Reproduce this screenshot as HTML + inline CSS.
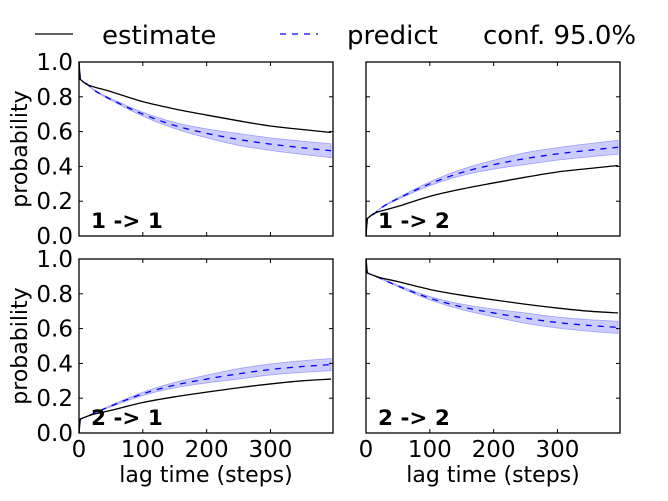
<!DOCTYPE html>
<html><head><meta charset="utf-8"><style>
html,body{margin:0;padding:0;background:#fff;}
svg text{font-family:"DejaVu Sans","Liberation Sans",sans-serif;}
</style></head><body>
<svg id="s" width="668" height="496" viewBox="0 0 668 496" xmlns="http://www.w3.org/2000/svg">
<rect width="668" height="496" fill="#fff"/>
<line x1="35" y1="34" x2="73" y2="34" stroke="#000" stroke-width="1.3"/>
<text x="102" y="44" font-size="26">estimate</text>
<line x1="280" y1="34" x2="318" y2="34" stroke="#00f" stroke-width="1.3" stroke-dasharray="6,6"/>
<text x="347" y="44" font-size="26">predict</text>
<text x="483" y="44" font-size="26">conf. 95.0%</text>
<g id="g"></g>
</svg>
<script>
var NS="http://www.w3.org/2000/svg",g=document.getElementById("g");
function el(t,a,txt){var e=document.createElementNS(NS,t);for(var k in a)e.setAttribute(k,a[k]);if(txt!==undefined)e.textContent=txt;g.appendChild(e);return e;}
var T=[0,2,12,25,50,100,150,200,250,300,350,395];
var est11=[1.0,0.9,0.872,0.855,0.83,0.772,0.73,0.695,0.662,0.632,0.612,0.595];
var pre11=[1.0,0.9,0.875,0.835,0.785,0.7,0.635,0.59,0.555,0.528,0.507,0.49];
var est22=[1.0,0.92,0.905,0.89,0.87,0.825,0.792,0.765,0.74,0.718,0.7,0.69];
var pre22=[1.0,0.92,0.905,0.885,0.845,0.775,0.725,0.69,0.66,0.635,0.618,0.607];
function bw(t,m){return m*Math.min(1,t/250)*(0.6+0.4*Math.min(1,t/395));}
function comp(a){return a.map(function(v,i){return i==0?0:1-v;});}
function cr(pts,start){var d=start?"M"+pts[0][0]+","+pts[0][1]:"L"+pts[0][0]+","+pts[0][1];
 for(var i=0;i<pts.length-1;i++){var p0=pts[Math.max(0,i-1)],p1=pts[i],p2=pts[i+1],p3=pts[Math.min(pts.length-1,i+2)];
  if(i==0){d+="L"+p2[0]+","+p2[1];continue;}
  var c1=[p1[0]+(p2[0]-p0[0])/6,p1[1]+(p2[1]-p0[1])/6],c2=[p2[0]-(p3[0]-p1[0])/6,p2[1]-(p3[1]-p1[1])/6];
  if(i==1){c1=[p1[0]+(p2[0]-p1[0])/3,p1[1]+(p2[1]-p1[1])/3];}
  d+="C"+c1[0]+","+c1[1]+" "+c2[0]+","+c2[1]+" "+p2[0]+","+p2[1];}
 return d;}
var panels=[
 {x:79,y:62,e:est11,p:pre11,hw:0.04,lab:"1 -> 1",left:true,bot:false},
 {x:366,y:62,e:comp(est11),p:comp(pre11),hw:0.04,lab:"1 -> 2",left:false,bot:false},
 {x:79,y:259,e:comp(est22),p:comp(pre22),hw:0.035,lab:"2 -> 1",left:true,bot:true},
 {x:366,y:259,e:est22,p:pre22,hw:0.035,lab:"2 -> 2",left:false,bot:true}];
var W=254,H=174,XM=398;
panels.forEach(function(P){
 function X(t){return P.x+t/XM*W;}function Y(v){return P.y+H-v*H;}
 var upP=T.map(function(t,i){return [X(t),Y(P.p[i]+bw(t,P.hw))];});
 var dnP=T.map(function(t,i){return [X(t),Y(P.p[i]-bw(t,P.hw))];});
 var dnR=dnP.slice().reverse();
 var d=cr(upP,true);
 // reverse path via lines with reasonable density
 var dr=cr(dnP,true); 
 el("path",{d:cr(upP,true)+"L"+dnR[0][0]+","+dnR[0][1]+"V"+dnR[0][1],fill:"none",stroke:"none"});
 // build band polygon by sampling
 var ptsU=[],ptsD=[];
 var tmp=document.createElementNS(NS,"path");
 function sample(dstr){tmp.setAttribute("d",dstr);g.appendChild(tmp);var L=tmp.getTotalLength(),o=[];for(var s=0;s<=80;s++){var q=tmp.getPointAtLength(L*s/80);o.push([q.x,q.y]);}g.removeChild(tmp);return o;}
 ptsU=sample(cr(upP,true));ptsD=sample(cr(dnP,true)).reverse();
 var poly=ptsU.concat(ptsD).map(function(q){return q[0].toFixed(2)+","+q[1].toFixed(2);}).join(" ");
 el("polygon",{points:poly,fill:"#0000ff","fill-opacity":0.2,stroke:"#0000ff","stroke-opacity":0.3,"stroke-width":0.8});
 var pe=T.map(function(t,i){return [X(t),Y(P.e[i])];});
 var pp=T.map(function(t,i){return [X(t),Y(P.p[i])];});
 el("path",{d:cr(pp,true),fill:"none",stroke:"#0000ff","stroke-width":1.3,"stroke-dasharray":"6,6"});
 el("path",{d:cr(pe,true),fill:"none",stroke:"#000","stroke-width":1.3});
 el("rect",{x:P.x,y:P.y,width:W,height:H,fill:"none",stroke:"#000","stroke-width":1.3});
 for(var k=0;k<=5;k++){var yy=Y(k*0.2);
  el("line",{x1:P.x,y1:yy,x2:P.x+4,y2:yy,stroke:"#000"});
  el("line",{x1:P.x+W,y1:yy,x2:P.x+W-4,y2:yy,stroke:"#000"});
  if(P.left)el("text",{x:P.x-6,y:yy+8,"font-size":23,"text-anchor":"end"},(k*0.2).toFixed(1));}
 for(var k=0;k<=3;k++){var xx=X(k*100);
  el("line",{x1:xx,y1:P.y,x2:xx,y2:P.y+4,stroke:"#000"});
  el("line",{x1:xx,y1:P.y+H,x2:xx,y2:P.y+H-4,stroke:"#000"});
  if(P.bot)el("text",{x:xx,y:P.y+H+24,"font-size":23,"text-anchor":"middle"},String(k*100));}
 el("text",{x:P.x+12,y:P.y+H-8,"font-size":21.5,"font-weight":"bold"},P.lab);
 if(P.left){var cy=P.y+H/2;el("text",{x:27,y:cy,"font-size":22,"text-anchor":"middle",transform:"rotate(-90 27 "+cy+")"},"probability");}
 if(P.bot)el("text",{x:P.x+W/2,y:482,"font-size":22,"text-anchor":"middle"},"lag time (steps)");
});
</script>
</body></html>
